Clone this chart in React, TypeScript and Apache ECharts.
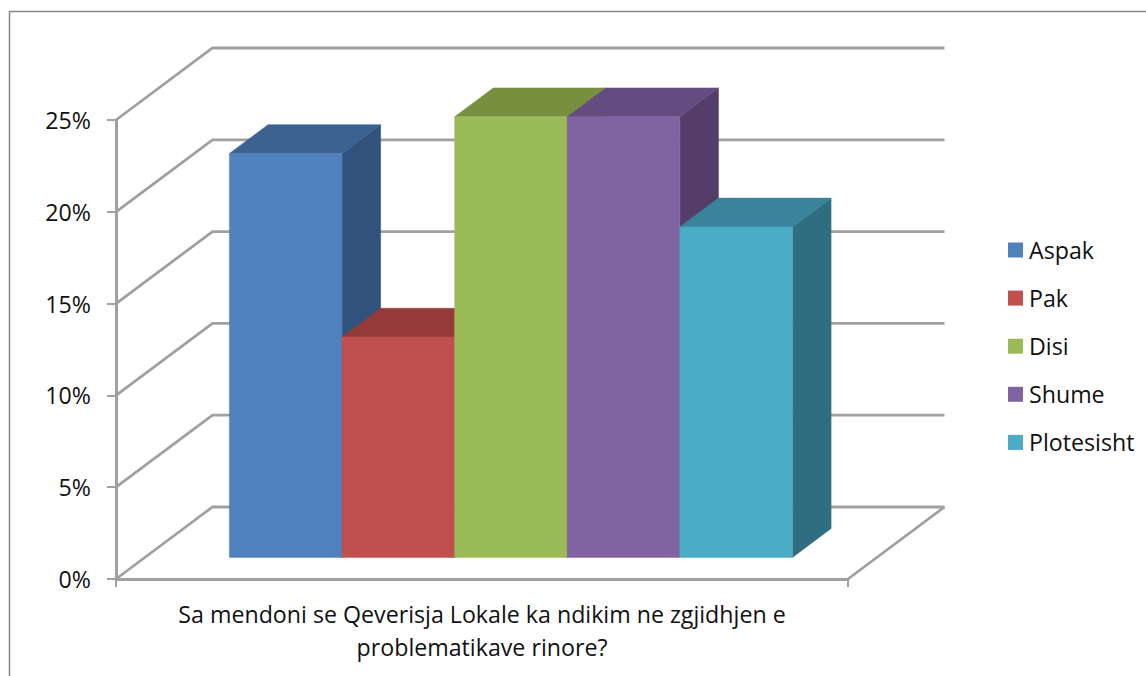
import React, { useEffect, useRef } from "react";
import * as echarts from "echarts";

const categories = ["Sa mendoni se Qeverisja Lokale ka ndikim ne zgjidhjen e\nproblematikave rinore?"];
const seriesNames = ["Aspak", "Pak", "Disi", "Shume", "Plotesisht"];
const seriesValues = [22, 12, 24, 24, 18];
const yTicks = [0, 5, 10, 15, 20, 25];
const frontColors = ["#4f81bd", "#c0504d", "#9bbb59", "#8064a2", "#4bacc6"];
const topColors = ["#3b6291", "#943b39", "#769040", "#634c80", "#39849a"];
const sideColors = ["#30527c", "#7d302e", "#64792f", "#553d69", "#2f6e80"];

const FONT = "Open Sans";
const FONT_SIZE = 23.2;
const DEPTH_X = 96.5;
const DEPTH_Y = 72;
const GAP_FRAC = 0.75 / 6.5; // margin on both sides of the bar row
const BAR_FRAC = 1 / 6.5;
const NEAR = 0.3;
const FAR = 0.7;
const WALL = "#a0a0a0";

function barRenderer(index: number) {
  return (params: any, api: any) => {
    const cs = params.coordSys;
    const value = api.value(1) as number;
    const base = api.coord([0, 0])[1];
    const top = api.coord([0, value])[1];
    const x0 = cs.x + cs.width * (GAP_FRAC + BAR_FRAC * index);
    const x1 = x0 + cs.width * BAR_FRAC;
    const nx = DEPTH_X * NEAR;
    const ny = DEPTH_Y * NEAR;
    const fx = DEPTH_X * FAR;
    const fy = DEPTH_Y * FAR;
    const poly = (points: number[][], fill: string) => ({
      type: "polygon",
      shape: { points },
      style: { fill, stroke: fill, lineWidth: 0.5 },
    });
    return {
      type: "group",
      children: [
        poly(
          [[x1 + nx, top - ny], [x1 + fx, top - fy], [x1 + fx, base - fy], [x1 + nx, base - ny]],
          sideColors[index]
        ),
        poly(
          [[x0 + nx, top - ny], [x0 + fx, top - fy], [x1 + fx, top - fy], [x1 + nx, top - ny]],
          topColors[index]
        ),
        poly(
          [[x0 + nx, top - ny], [x1 + nx, top - ny], [x1 + nx, base - ny], [x0 + nx, base - ny]],
          frontColors[index]
        ),
      ],
    };
  };
}

function wallRenderer(params: any, api: any) {
  const cs = params.coordSys;
  const v = api.value(1) as number;
  const y = api.coord([0, v])[1];
  const left = cs.x;
  const right = cs.x + cs.width;
  const children: any[] = [
    {
      type: "polyline",
      shape: { points: [[left, y], [left + DEPTH_X, y - DEPTH_Y], [right + DEPTH_X, y - DEPTH_Y]] },
      style: { stroke: WALL, lineWidth: 2.8, fill: "none" },
    },
  ];
  if (v === 0) {
    children.push({
      type: "polyline",
      shape: { points: [[right, y], [right + DEPTH_X, y - DEPTH_Y]] },
      style: { stroke: WALL, lineWidth: 2.8, fill: "none" },
    });
  }
  return { type: "group", children };
}

export default function App() {
  const ref = useRef<HTMLDivElement>(null);
  useEffect(() => {
    document.body.style.margin = "0";
    const chart = echarts.init(ref.current!, undefined, { renderer: "svg" });
    chart.setOption({
      animation: false,
      backgroundColor: "#ffffff",
      textStyle: { fontFamily: FONT },
      grid: { left: 116, top: 120, width: 732, height: 459, containLabel: false },
      xAxis: {
        type: "category",
        data: categories,
        axisLine: { show: true, lineStyle: { color: WALL, width: 3 } },
        axisTick: { show: true, length: 8, lineStyle: { color: WALL, width: 2 } },
        axisLabel: {
          color: "#111111",
          fontFamily: FONT,
          fontSize: FONT_SIZE,
          lineHeight: 33,
          margin: 18,
          interval: 0,
        },
        splitLine: { show: false },
      },
      yAxis: {
        type: "value",
        min: 0,
        max: 25,
        interval: 5,
        axisLine: { show: true, lineStyle: { color: WALL, width: 3 } },
        axisTick: { show: true, length: 9, lineStyle: { color: WALL, width: 2 } },
        axisLabel: {
          formatter: "{value}%",
          color: "#111111",
          fontFamily: FONT,
          fontSize: FONT_SIZE,
          margin: 25,
        },
        splitLine: { show: false },
      },
      legend: {
        orient: "vertical",
        left: 1008,
        top: 238.5,
        padding: 0,
        icon: "rect",
        itemWidth: 15,
        itemHeight: 15,
        itemGap: 25.1,
        data: seriesNames,
        selectedMode: false,
        textStyle: { color: "#111111", fontFamily: FONT, fontSize: FONT_SIZE, padding: [0, 0, 0, 1] },
      },
      graphic: [
        {
          type: "rect",
          silent: true,
          shape: { x: 9.5, y: 11.5, width: 1300, height: 800 },
          style: { fill: "none", stroke: "#868686", lineWidth: 1.5 },
        },
      ],
      series: [
        {
          type: "custom",
          name: "walls",
          silent: true,
          renderItem: wallRenderer,
          data: yTicks.map((t) => [0, t]),
          encode: { x: 0, y: 1 },
          z: 1,
        },
        ...seriesNames.map((name, i) => ({
          type: "custom",
          name,
          silent: true,
          renderItem: barRenderer(i),
          itemStyle: { color: frontColors[i] },
          data: [[0, seriesValues[i]]],
          encode: { x: 0, y: 1 },
          z: 3 + i,
        })),
      ],
    });
    return () => chart.dispose();
  }, []);
  return <div ref={ref} style={{ position: "absolute", left: 0, top: 0, width: 1146, height: 676 }} />;
}
